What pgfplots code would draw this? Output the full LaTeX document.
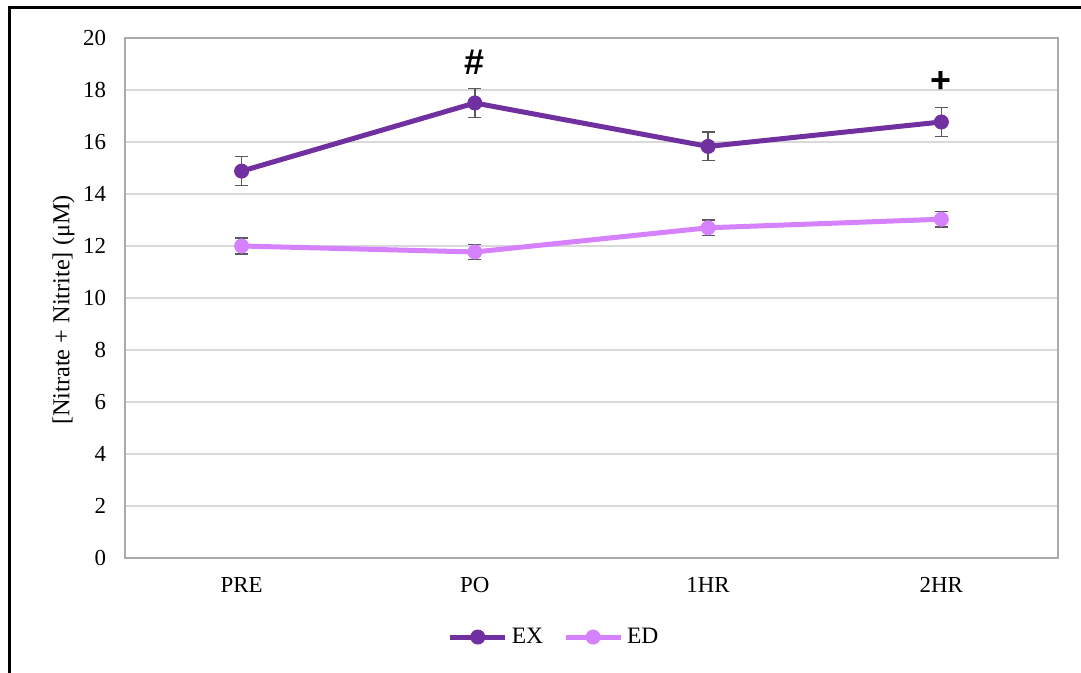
\documentclass[border=0pt]{standalone}
\usepackage{fontspec}
\setmainfont{Liberation Serif}
\setsansfont{Liberation Sans}
\usepackage{pgfplots}
\pgfplotsset{compat=1.18}
\definecolor{exc}{RGB}{112,48,160}
\definecolor{edc}{RGB}{214,130,255}
\definecolor{gridc}{RGB}{217,217,217}
\definecolor{framec}{RGB}{170,170,170}
\definecolor{errc}{RGB}{89,89,89}
\begin{document}
\begin{tikzpicture}
\useasboundingbox (0,0) rectangle (540.5bp,336.5bp);
\draw[line width=1.5bp] (4.75bp,0) -- (4.75bp,332.5bp) -- (540.5bp,332.5bp);
\begin{axis}[
  at={(62.5bp,57.5bp)}, anchor=south west,
  scale only axis, width=466.5bp, height=260bp,
  xmin=-0.5, xmax=3.5, ymin=0, ymax=20,
  xtick={0,1,2,3}, xticklabels={PRE,PO,1HR,2HR},
  ytick={0,2,...,20},
  major tick length=0,
  ymajorgrids, grid style={gridc, line width=0.75bp},
  axis line style={framec, line width=1bp},
  tick label style={font=\fontsize{11.5}{13}\selectfont},
  /pgf/number format/assume math mode=true,
  yticklabel style={xshift=-6bp},
  xticklabel style={yshift=-6bp},
  ylabel={[Nitrate + Nitrite] (μM)},
  ylabel style={at={(axis description cs:-0.066,0.477)}, anchor=center, font=\fontsize{12.2}{14}\selectfont},
  legend style={at={(0.461,-0.152)}, anchor=center, draw=none, legend columns=2,
    font=\fontsize{11.8}{13}\selectfont,
    /tikz/every even column/.append style={column sep=8bp}},
  legend image code/.code={\draw[mark repeat=2,mark phase=2,#1] plot coordinates {(0bp,0bp) (13.75bp,0bp) (27.5bp,0bp)};},
]
\addplot[exc, line width=2.5bp, mark=*, mark size=3.5bp, mark options={solid, fill=exc, draw=exc, line width=0.5bp},
  error bars/.cd, y dir=both, y explicit,
  error bar style={errc, line width=0.75bp},
  error mark options={rotate=90, mark size=3.2bp, errc, line width=0.75bp}]
  coordinates {(0,14.88) +- (0,0.56) (1,17.50) +- (0,0.55) (2,15.83) +- (0,0.55) (3,16.77) +- (0,0.56)};
\addlegendentry{EX}
\addplot[edc, line width=2.5bp, mark=*, mark size=3.5bp, mark options={solid, fill=edc, draw=edc, line width=0.5bp},
  error bars/.cd, y dir=both, y explicit,
  error bar style={errc, line width=0.75bp},
  error mark options={rotate=90, mark size=3.2bp, errc, line width=0.75bp}]
  coordinates {(0,12.00) +- (0,0.30) (1,11.77) +- (0,0.29) (2,12.70) +- (0,0.30) (3,13.03) +- (0,0.30)};
\addlegendentry{ED}
\node[font=\sffamily\bfseries\fontsize{18}{20}\selectfont] at (axis cs:1,19.08) {\#};
\node[font=\sffamily\bfseries\fontsize{18}{20}\selectfont] at (axis cs:3,18.31) {+};
\end{axis}
\end{tikzpicture}
\end{document}
